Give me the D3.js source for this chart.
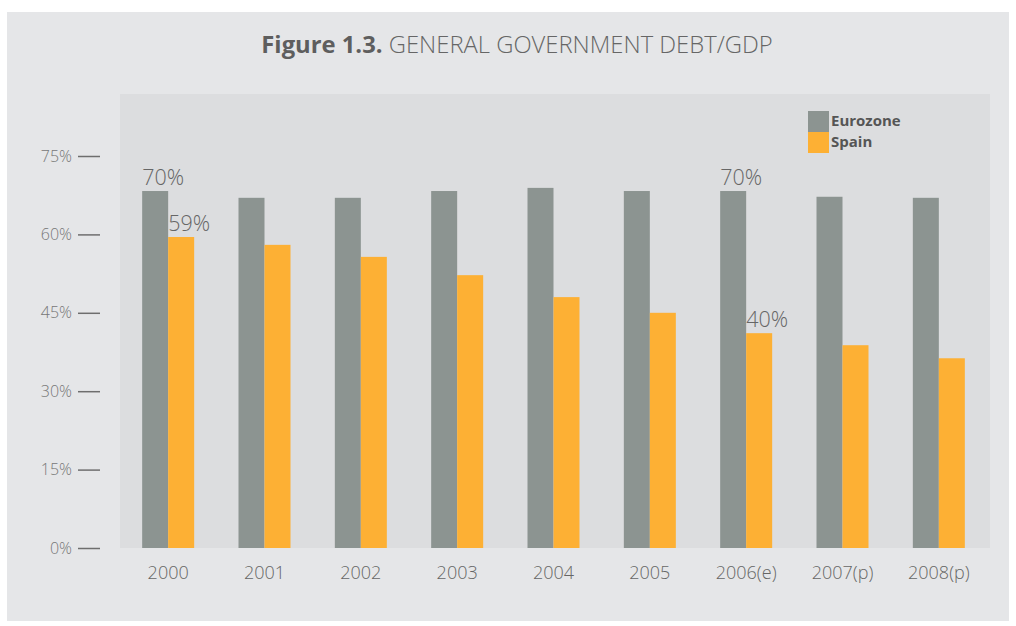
<!DOCTYPE html>
<html>
<head>
<meta charset="utf-8">
<script src="https://cdn.jsdelivr.net/npm/d3@7"></script>
<style>
	body { margin: 0; background: #ffffff; }
	text { font-family: "Open Sans", "Noto Sans", sans-serif; }
</style>
</head>
<body>
<div id="vizContainer"></div>
<script>
let w = 1016;
let h = 626;

// data
let years = ["2000", "2001", "2002", "2003", "2004", "2005", "2006(e)", "2007(p)", "2008(p)"];
let eurozone = [68.3, 67.0, 67.0, 68.3, 68.9, 68.3, 68.3, 67.2, 67.0];
let spain = [59.5, 58.0, 55.7, 52.2, 48.0, 45.0, 41.1, 38.8, 36.3];
let yTicks = [0, 15, 30, 45, 60, 75];
let seriesNames = ["Eurozone", "Spain"];
// value labels printed on the chart: [year index, series, text]
let notes = [
	[0, 0, "70%"],
	[0, 1, "59%"],
	[6, 0, "70%"],
	[6, 1, "40%"]
];

let colors = ["#8c9491", "#fdb034"];

let viz = d3.select('#vizContainer').append('svg')
	.attr('width', w)
	.attr('height', h)
	;

// outer panel
viz.append('rect')
	.attr('x', 7).attr('y', 12)
	.attr('width', 1002).attr('height', 609)
	.attr('fill', '#e5e6e8')
	;

let plot = {left: 120, right: 990, top: 94, bottom: 548};

viz.append('rect')
	.attr('x', plot.left).attr('y', plot.top)
	.attr('width', plot.right - plot.left).attr('height', plot.bottom - plot.top)
	.attr('fill', '#dcdddf')
	;

// title
let title = viz.append('text')
	.attr('x', 517).attr('y', 53)
	.attr('text-anchor', 'middle')
	.attr('font-size', 23.8)
	.attr('fill', '#5e5e5e')
	;
title.append('tspan').attr('font-weight', 'bold').text('Figure 1.3.');
title.append('tspan').attr('font-weight', 300).attr('fill', '#666').text(' GENERAL GOVERNMENT DEBT/GDP');

let xScale = d3.scaleBand().domain(years).range([plot.left, 987]);
let bw = 26;
let yScale = d3.scaleLinear().domain([0, 75]).range([plot.bottom, 156]);

// y axis: ticks sit to the left of the plot area
let yAxis = d3.axisLeft(yScale)
	.tickValues(yTicks)
	.tickSize(22)
	.tickPadding(6)
	.tickFormat(d => d + '%');

let yG = viz.append('g')
	.attr('transform', 'translate(100,0)')
	.call(yAxis);
yG.select('.domain').remove();
yG.selectAll('.tick line').attr('stroke', '#6e6e6e').attr('stroke-width', 1.5);
yG.selectAll('.tick text')
	.attr('font-size', 16)
	.attr('fill', '#777')
	.attr('font-weight', 300)
	.attr('font-family', '"Open Sans", "Noto Sans", sans-serif');

// x axis labels
let xAxis = d3.axisBottom(xScale).tickSize(0).tickPadding(18);
let xG = viz.append('g')
	.attr('transform', 'translate(0,' + plot.bottom + ')')
	.call(xAxis);
xG.select('.domain').remove();
xG.selectAll('.tick text')
	.attr('font-size', 18)
	.attr('fill', '#666')
	.attr('font-weight', 300)
	.attr('font-family', '"Open Sans", "Noto Sans", sans-serif');

let series = [eurozone, spain];
let barGroup = viz.append('g').attr('class', 'bars');

series.forEach(function(vals, s){
	barGroup.selectAll('.bar' + s).data(vals).enter()
		.append('rect')
		.attr('class', 'bar' + s)
		.attr('x', function(d, i){
			return xScale.bandwidth() / 2 + xScale(years[i]) - bw + s * bw;
		})
		.attr('y', function(d){ return yScale(d); })
		.attr('width', bw)
		.attr('height', function(d){ return yScale(0) - yScale(d); })
		.attr('fill', colors[s])
		;
});

// value notes
viz.selectAll('.note').data(notes).enter()
	.append('text')
	.attr('class', 'note')
	.attr('x', function(d){
		return xScale.bandwidth() / 2 + xScale(years[d[0]]) - bw + d[1] * bw;
	})
	.attr('y', function(d){ return yScale(series[d[1]][d[0]]) - 6; })
	.attr('font-size', 21.5)
	.attr('font-weight', 300)
	.attr('fill', '#666')
	.text(function(d){ return d[2]; })
	;

// legend
let legend = viz.append('g').attr('transform', 'translate(808,111)');
seriesNames.forEach(function(name, i){
	legend.append('rect')
		.attr('x', 0).attr('y', i * 21)
		.attr('width', 21).attr('height', 21)
		.attr('fill', colors[i]);
	legend.append('text')
		.attr('x', 23).attr('y', i * 21 + 15)
		.attr('font-size', 15)
		.attr('font-weight', 'bold')
		.attr('fill', '#555')
		.text(name);
});
</script>
</body>
</html>
